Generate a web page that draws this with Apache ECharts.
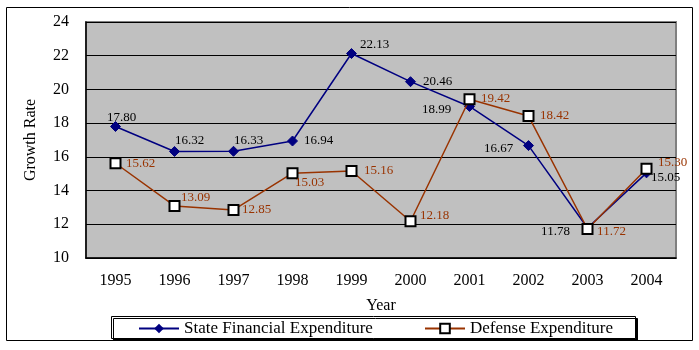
<!DOCTYPE html>
<html><head><meta charset="utf-8">
<script src="https://cdn.jsdelivr.net/npm/echarts@6/dist/echarts.min.js"></script>
<style>html,body{margin:0;padding:0;background:#fff}#c{width:699px;height:350px}</style>
</head><body><div id="c"></div>
<script>
const years = ['1995','1996','1997','1998','1999','2000','2001','2002','2003','2004'];
const stateExp = [17.80, 16.32, 16.33, 16.94, 22.13, 20.46, 18.99, 16.67, 11.78, 15.05];
const defenseExp = [15.62, 13.09, 12.85, 15.03, 15.16, 12.18, 19.42, 18.42, 11.72, 15.30];
const yTicks = [10, 12, 14, 16, 18, 20, 22, 24];

// label placement (layout only): label centre relative to the point
const stateLabelOffset = [[6,-9],[15,-11],[15,-11],[26,0],[23,-9],[27,0],[-33,3],[-30,3],[-32,4],[19,5]];
const defenseLabelOffset = [[25,0],[21,-8],[23,0],[17,9],[27,0],[24,-6],[26,-1],[26,0],[24,3],[26,-6]];

const FONT = '"Liberation Serif", "Times New Roman", serif';
const chart = echarts.init(document.getElementById('c'));
function mk(vals, offs) {
  return vals.map((v, i) => ({ value: v, label: { offset: offs[i] } }));
}
const legendCommon = {
  top: 320, padding: 0, itemWidth: 40, itemHeight: 12,
  textStyle: { fontFamily: FONT, fontSize: 17, color: '#000' }
};
chart.setOption({
  animation: false,
  graphic: [
    { type: 'rect', shape: { x: 6.5, y: 7.5, width: 686, height: 333 },
      style: { fill: 'none', stroke: '#000', lineWidth: 1 }, z: -10 },
    { type: 'rect', shape: { x: 111.5, y: 316.5, width: 524, height: 22 },
      style: { fill: '#fff', stroke: '#000', lineWidth: 1,
        shadowColor: '#000', shadowOffsetX: 2, shadowOffsetY: 2, shadowBlur: 0 }, z: -5 }
  ],
  grid: {
    left: 86, top: 22, width: 590, height: 236,
    show: true, backgroundColor: '#C0C0C0', borderColor: '#808080', borderWidth: 2
  },
  xAxis: {
    type: 'category', data: years, boundaryGap: true,
    name: 'Year', nameLocation: 'middle', nameGap: 40,
    nameTextStyle: { fontFamily: FONT, fontSize: 16, color: '#000' },
    axisLine: { lineStyle: { color: '#000', width: 1.5 } },
    axisTick: { inside: true, length: 5, lineStyle: { color: '#000' } },
    axisLabel: { fontFamily: FONT, fontSize: 16, color: '#000', margin: 15 },
    splitLine: { show: false }
  },
  yAxis: {
    type: 'value', min: yTicks[0], max: yTicks[yTicks.length-1], interval: 2,
    name: 'Growth Rate', nameLocation: 'middle', nameGap: 47,
    nameTextStyle: { fontFamily: FONT, fontSize: 16, color: '#000' },
    axisLine: { show: true, lineStyle: { color: '#000', width: 1.5 } },
    axisTick: { show: true, inside: true, length: 4, lineStyle: { color: '#000' } },
    axisLabel: { fontFamily: FONT, fontSize: 16, color: '#000', margin: 17 },
    splitLine: { show: true, lineStyle: { color: '#000', width: 1 } }
  },
  legend: [
    Object.assign({ left: 138, data: ['State Financial Expenditure'] }, legendCommon),
    Object.assign({ left: 424, data: ['Defense Expenditure'] }, legendCommon)
  ],
  series: [
    {
      name: 'State Financial Expenditure', type: 'line',
      data: mk(stateExp, stateLabelOffset),
      symbol: 'diamond', symbolSize: 10,
      lineStyle: { color: '#000080', width: 1.5 },
      itemStyle: { color: '#000080', borderColor: '#000080' },
      label: { show: true, position: 'inside', align: 'center', verticalAlign: 'middle',
        formatter: p => p.value.toFixed(2),
        fontFamily: FONT, fontSize: 13, color: '#000' },
      z: 3
    },
    {
      name: 'Defense Expenditure', type: 'line',
      data: mk(defenseExp, defenseLabelOffset),
      symbol: 'rect', symbolSize: 10,
      lineStyle: { color: '#993300', width: 1.5 },
      itemStyle: { color: '#fff', borderColor: '#000', borderWidth: 2 },
      label: { show: true, position: 'inside', align: 'center', verticalAlign: 'middle',
        formatter: p => p.value.toFixed(2),
        fontFamily: FONT, fontSize: 13, color: '#993300' },
      z: 4
    }
  ]
});
</script></body></html>
